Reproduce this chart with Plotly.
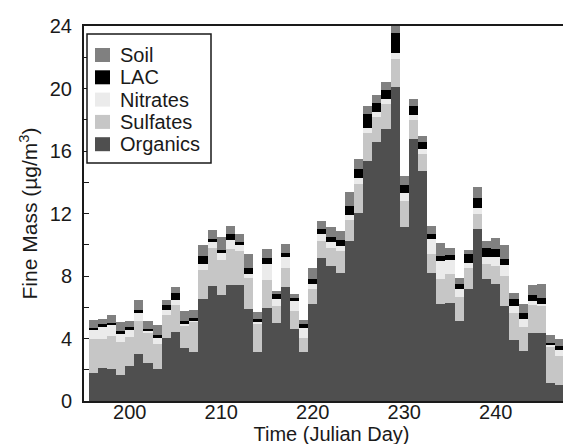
import plotly.graph_objects as go

days = list(range(196, 248))

organics = [1.8, 2.13, 2.02, 1.66, 2.23, 2.98, 2.45, 2.02, 4.04, 4.43,
            3.4, 3.15, 6.53, 7.34, 6.77, 7.4, 7.4, 5.86, 3.16, 5.97,
            5.01, 7.29, 4.58, 3.16, 6.22, 9.17, 8.64, 8.21, 10.23, 12.05,
            15.36, 16.6, 17.4, 20.1, 11.15, 16.8, 14.72, 8.2, 6.22, 6.28,
            5.1, 7.2, 10.98, 7.78, 7.46, 6.07, 3.93, 3.18, 4.36, 4.36,
            1.15, 1.05]
sulfates = [2.14, 1.87, 2.17, 2.13, 1.86, 2.12, 1.91, 1.64, 1.49, 1.74,
            1.43, 1.95, 1.87, 2.46, 2.27, 2.32, 2.17, 2.03, 1.74, 1.75,
            1.07, 1.24, 1.18, 0.89, 0.92, 1.06, 1.17, 1.38, 1.37, 1.82,
            1.82, 1.6, 1.6, 1.8, 1.65, 1.2, 1.1, 1.22, 1.56, 1.82,
            1.55, 1.33, 1.01, 1.0, 1.17, 1.93, 1.71, 1.54, 1.81, 1.71,
            2.29, 1.81]
nitrates = [0.63, 0.79, 0.71, 0.53, 0.48, 0.54, 0.14, 0.38, 0.32, 0.32,
            0.07, 0.05, 0.37, 0.37, 0.43, 0.58, 0.43, 0.25, 0.17, 1.06,
            0.42, 0.7, 0.64, 0.6, 0.36, 0.43, 0.38, 0.32, 0.3, 0.38,
            0.28, 0.3, 0.3, 0.4, 0.5, 0.3, 0.3, 0.98, 1.17, 0.94,
            0.55, 0.32, 0.38, 0.42, 0.57, 0.7, 0.43, 0.54, 0.22, 0.15,
            0.13, 0.43]
lac = [0.11, 0.11, 0.1, 0.15, 0.15, 0.21, 0.14, 0.17, 0.32, 0.41,
       0.25, 0.17, 0.49, 0.23, 0.21, 0.4, 0.2, 0.39, 0.2, 0.39,
       0.32, 0.26, 0.17, 0.25, 0.28, 0.32, 0.3, 0.37, 0.57, 0.58,
       0.89, 0.6, 0.6, 1.25, 0.55, 0.6, 0.45, 0.3, 0.32, 0.3,
       0.3, 0.53, 0.6, 0.6, 0.5, 0.36, 0.43, 0.38, 0.38, 0.38,
       0.15, 0.21]
soil = [0.49, 0.38, 0.53, 0.59, 0.43, 0.6, 0.51, 0.68, 0.28, 0.4,
        0.64, 0.53, 0.7, 0.56, 0.82, 0.5, 0.5, 0.85, 0.44, 0.57,
        0.22, 0.57, 0.3, 0.28, 0.75, 0.53, 0.64, 0.59, 0.93, 0.64,
        0.55, 0.5, 0.5, 0.45, 0.55, 0.45, 0.4, 0.5, 0.86, 0.46,
        0.38, 0.26, 0.73, 0.43, 0.75, 0.92, 0.42, 0.54, 0.64, 0.9,
        0.48, 0.5]

x_ticks = [200, 210, 220, 230, 240]
y_ticks = [0, 4, 8, 12, 16, 20, 24]

series = [
    ("Organics", organics, "#4f4f4f"),
    ("Sulfates", sulfates, "#c6c6c6"),
    ("Nitrates", nitrates, "#ebebeb"),
    ("LAC", lac, "#000000"),
    ("Soil", soil, "#808080"),
]

FONT = "Liberation Sans"
TXT = "#1a1a1a"
W, H = 571, 444
ML, MR, MT, MB = 76, 0, 18, 51
PW, PH = W - ML - MR, H - MT - MB


def px_x(px):
    return (px - ML) / PW


def px_y(py):
    return (H - MB - py) / PH


fig = go.Figure()
for name, vals, col in series:
    fig.add_trace(go.Bar(
        x=days, y=vals, name=name, width=1, showlegend=False,
        marker=dict(color=col, line=dict(width=0)),
    ))

# legend box drawn as layout decorations (entries listed top to bottom)
shapes = [dict(type="rect", xref="paper", yref="paper",
               x0=px_x(79), x1=px_x(203), y0=px_y(155), y1=px_y(26),
               line=dict(color=TXT, width=1.5), fillcolor="white", layer="above")]
annotations = []
row_gap = 22.3
for i, (name, _, col) in enumerate(reversed(series)):
    cy = 47 + i * row_gap
    shapes.append(dict(type="rect", xref="paper", yref="paper",
                       x0=px_x(87), x1=px_x(102), y0=px_y(cy + 7), y1=px_y(cy - 7),
                       line=dict(width=0), fillcolor=col, layer="above"))
    annotations.append(dict(xref="paper", yref="paper", x=px_x(110), y=px_y(cy),
                            xanchor="left", yanchor="middle", showarrow=False,
                            text=name, font=dict(family=FONT, size=20, color=TXT)))

fig.update_layout(
    width=W, height=H,
    barmode="stack", bargap=0,
    paper_bgcolor="white", plot_bgcolor="white",
    margin=dict(l=ML, r=MR, t=MT, b=MB),
    font=dict(family=FONT, size=20, color=TXT),
    showlegend=False,
    shapes=shapes, annotations=annotations,
)
fig.update_xaxes(
    range=[195, 249.1], tickvals=x_ticks, ticktext=[str(v) for v in x_ticks],
    showgrid=False, zeroline=False,
    showline=True, linecolor=TXT, linewidth=2, mirror=True,
    ticks="", ticklabelstandoff=-8,
    title=dict(text="Time (Julian Day)", standoff=0, font=dict(size=20)),
)
fig.update_yaxes(
    range=[0, 24], tickvals=y_ticks, ticktext=[str(v) for v in y_ticks],
    showgrid=False, zeroline=False,
    showline=True, linecolor=TXT, linewidth=2, mirror=False,
    ticks="inside", ticklen=5, tickcolor=TXT,
    minor=dict(dtick=2, ticks="inside", ticklen=5, tickcolor=TXT),
    ticklabelstandoff=6,
    title=dict(text="Fine Mass (µg/m<sup>3</sup>)", standoff=6, font=dict(size=21)),
)

fig.write_html("out.html")
